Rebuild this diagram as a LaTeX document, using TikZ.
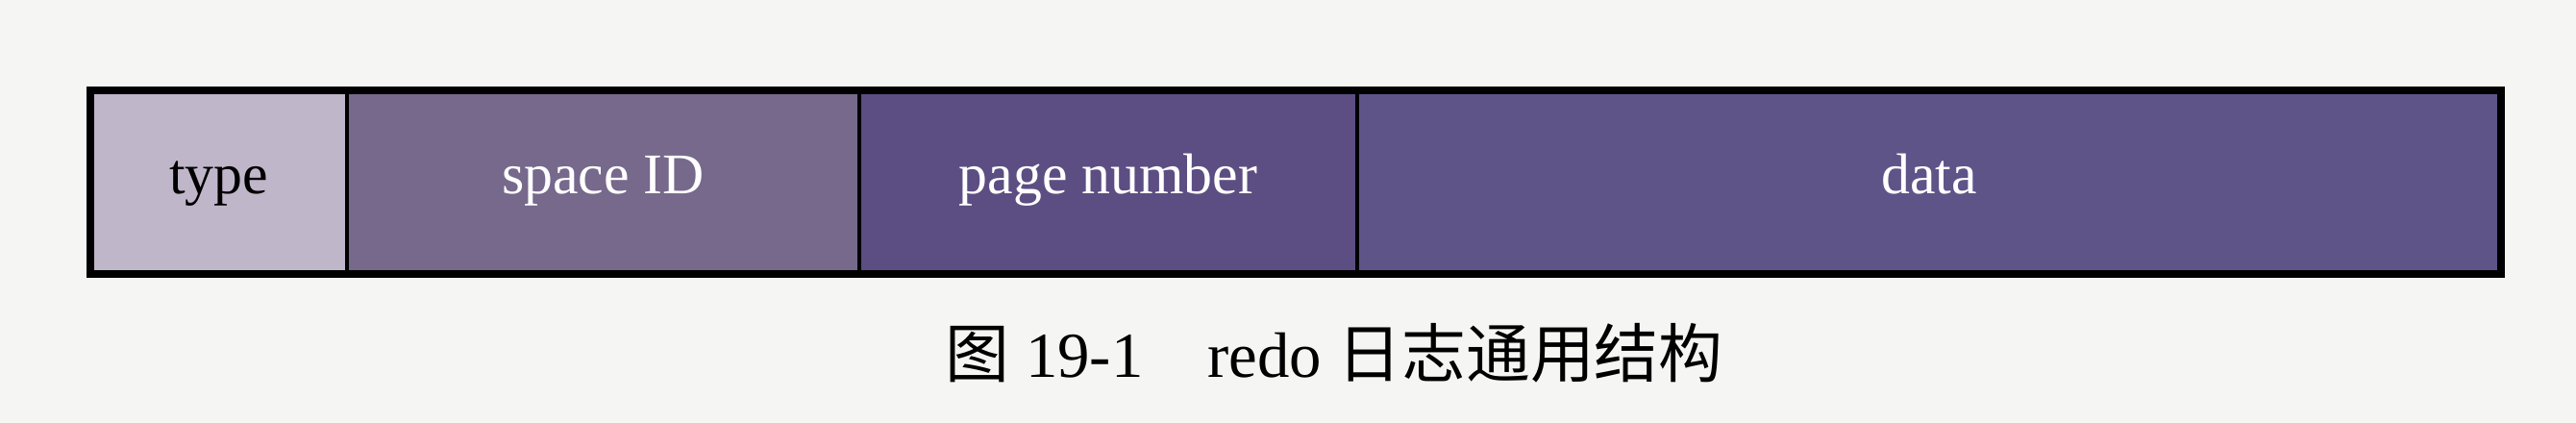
\documentclass[tikz,border=0pt]{standalone}
\usepackage{fontspec}
\setmainfont{Liberation Serif}
\newfontfamily\cjk{Noto Sans CJK SC}
\usepackage{tikz}
\definecolor{paper}{RGB}{245,245,243}
\definecolor{typecol}{RGB}{192,182,202}
\definecolor{spacecol}{RGB}{118,105,140}
\definecolor{pagecol}{RGB}{92,78,130}
\definecolor{datacol}{RGB}{95,84,136}

\begin{document}
\begin{tikzpicture}[field/.style = {rectangle, draw, line width = 1.2pt, inner sep = 0pt,
    outer sep = 0pt, minimum height = 1.91cm, text height = 0.85em, text depth = 0.15em,
    font = \fontsize{17}{20}\selectfont, text = white}]
\fill[paper] (0,0) rectangle (26.8,4.4);
\useasboundingbox (0,0) rectangle (26.8,4.4);
\draw (2.275,2.505) node[field, fill = typecol, text = black, minimum width = 2.67cm](type){type}
    (6.275,2.505) node[field, fill = spacecol, minimum width = 5.33cm](space){space ID}
    (11.53,2.505) node[field, fill = pagecol, minimum width = 5.18cm](page){page number}
    (20.07,2.505) node[field, fill = datacol, minimum width = 11.90cm](data){data};
    \draw [line width = 2.2pt] (type.north west) rectangle (data.south east);
    \node[font = \fontsize{19}{22}\selectfont](caption) at (13.88,0.73) {{\cjk 图} 19-1\quad redo {\cjk 日志通用结构}};
\end{tikzpicture}
\end{document}
